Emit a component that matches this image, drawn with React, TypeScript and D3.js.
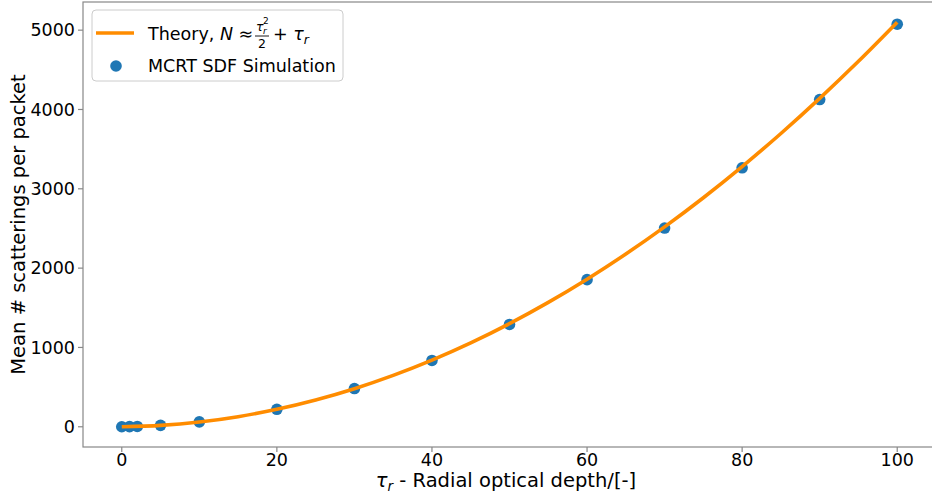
import React from 'react'
import * as d3 from 'd3'

const width = 932
const height = 494
const margin = { left: 83, top: 2, right: -4, bottom: 47 }

const simTau = [0, 1, 2, 5, 10, 20, 30, 40, 50, 60, 70, 80, 90, 100]
const simN = [0, 1.5, 4, 18, 62, 220, 482, 836, 1290, 1855, 2505, 3265, 4125, 5075]

const theoryTau = [0, 5, 10, 15, 20, 25, 30, 35, 40, 45, 50, 55, 60, 65, 70, 75, 80, 85, 90, 95, 100]
const theoryN = [
  0, 17.5, 60, 127.5, 220, 337.5, 480, 647.5, 840, 1057.5, 1300, 1567.5, 1860, 2177.5, 2520,
  2887.5, 3280, 3697.5, 4140, 4607.5, 5100,
]

const xTicks = [0, 20, 40, 60, 80, 100]
const yTicks = [0, 1000, 2000, 3000, 4000, 5000]

const orange = '#ff8c00'
const blue = '#1f77b4'
const spine = '#888'
const font = 'DejaVu Sans, sans-serif'

function App() {
  const x = d3
    .scaleLinear()
    .domain([-5, 105])
    .range([margin.left, width - margin.right])
  const y = d3
    .scaleLinear()
    .domain([-255, 5355])
    .range([height - margin.bottom, margin.top])

  const theory = d3
    .line<number>()
    .x((d, i) => x(theoryTau[i]))
    .y((d) => y(d))
    .curve(d3.curveMonotoneX)(theoryN)

  const x0 = margin.left
  const x1 = width - margin.right
  const y0 = height - margin.bottom
  const y1 = margin.top

  return (
    <svg
      width={width}
      height={height}
      style={{ position: 'absolute', left: 0, top: 0, background: 'white', fontFamily: font }}
    >
      {/* points under the line */}
      {simTau.map((t, i) => (
        <circle key={t} cx={x(t)} cy={y(simN[i])} r={5.8} fill={blue} />
      ))}
      <path d={theory || ''} fill="none" stroke={orange} strokeWidth={3.6} />

      {/* spines */}
      <rect x={x0} y={y1} width={x1 - x0} height={y0 - y1} fill="none" stroke={spine} strokeWidth={1.2} />

      {xTicks.map((t) => (
        <g key={t} transform={`translate(${x(t)},${y0})`}>
          <line y2={5} stroke={spine} strokeWidth={1.2} />
          <text y={19} textAnchor="middle" fontSize={17.5} fill="#000">
            {t}
          </text>
        </g>
      ))}
      {yTicks.map((t) => (
        <g key={t} transform={`translate(${x0},${y(t)})`}>
          <line x2={-5} stroke={spine} strokeWidth={1.2} />
          <text x={-8} dy="0.36em" textAnchor="end" fontSize={17.5} fill="#000">
            {t}
          </text>
        </g>
      ))}

      <text x={506} y={487} textAnchor="middle" fontSize={19.5}>
        <tspan fontStyle="italic">τ</tspan>
        <tspan fontStyle="italic" fontSize={13.5} dy={4}>r</tspan>
        <tspan dy={-4}> - Radial optical depth/[-]</tspan>
      </text>
      <text
        transform={`translate(25,${(y0 + y1) / 2}) rotate(-90)`}
        textAnchor="middle"
        fontSize={19.5}
      >
        Mean # scatterings per packet
      </text>

      {/* legend */}
      <g>
        <rect x={92} y={10} width={251} height={71} rx={4} fill="white" fillOpacity={0.8} stroke="#ccc" strokeWidth={1} />
        <line x1={96} x2={134} y1={33} y2={33} stroke={orange} strokeWidth={3.6} />
        <text x={148} y={40} fontSize={17.5}>
          Theory,{' '}
          <tspan fontStyle="italic">N</tspan>
          <tspan> ≈</tspan>
        </text>
        {/* fraction tau_r^2 / 2 */}
        <text x={256} y={31} fontSize={12.5} fontStyle="italic">τ</text>
        <text x={263} y={34} fontSize={9} fontStyle="italic">r</text>
        <text x={263} y={24} fontSize={9}>2</text>
        <line x1={255} x2={269} y1={36} y2={36} stroke="#000" strokeWidth={0.9} />
        <text x={262} y={48} fontSize={12.5} textAnchor="middle">2</text>
        <text x={273} y={40} fontSize={17.5}>
          + <tspan fontStyle="italic">τ</tspan>
          <tspan fontStyle="italic" fontSize={12.5} dy={4}>r</tspan>
        </text>
        <circle cx={116} cy={66} r={5.8} fill={blue} />
        <text x={148} y={72} fontSize={17.5}>
          MCRT SDF Simulation
        </text>
      </g>
    </svg>
  )
}

export default App
